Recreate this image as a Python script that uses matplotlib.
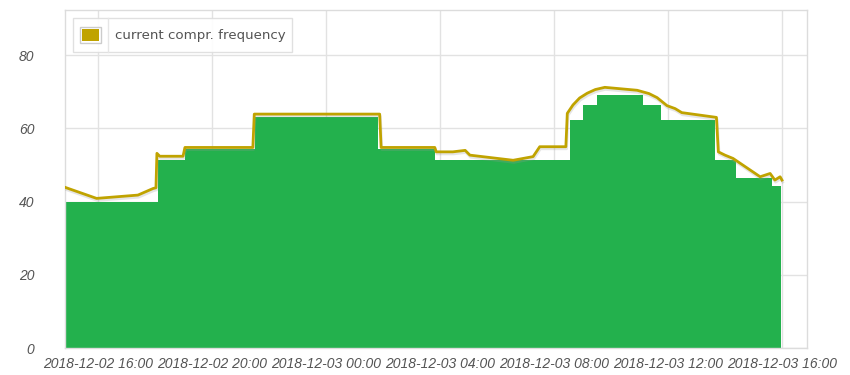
import matplotlib
matplotlib.use("Agg")
import matplotlib.pyplot as plt
import matplotlib.dates as mdates
import matplotlib.patheffects as pe
from matplotlib.patches import Rectangle
import numpy as np
import pandas as pd

# compressor frequency steps (green area), value holds until next edge
step_times = ["2018-12-02 14:50", "2018-12-02 18:06", "2018-12-02 19:03", "2018-12-02 21:31",
              "2018-12-03 01:49", "2018-12-03 03:49", "2018-12-03 08:33", "2018-12-03 09:01",
              "2018-12-03 09:31", "2018-12-03 11:07", "2018-12-03 11:45", "2018-12-03 13:39",
              "2018-12-03 14:23", "2018-12-03 15:39", "2018-12-03 15:58"]
step_values = [40, 51.3, 54.5, 63, 54.5, 51.3, 62.4, 66.4, 69.1, 66.4, 62.4, 51.3, 46.5, 44.3, 44.3]

# current compressor frequency (gold line)
line_times = ["2018-12-02 14:51", "2018-12-02 15:57", "2018-12-02 17:24", "2018-12-02 17:56",
              "2018-12-02 18:02", "2018-12-02 18:04", "2018-12-02 18:10", "2018-12-02 18:59",
              "2018-12-02 19:03", "2018-12-02 21:26", "2018-12-02 21:29", "2018-12-03 01:53",
              "2018-12-03 01:56", "2018-12-03 03:49", "2018-12-03 03:52", "2018-12-03 04:27",
              "2018-12-03 04:53", "2018-12-03 05:03", "2018-12-03 06:34", "2018-12-03 07:16",
              "2018-12-03 07:30", "2018-12-03 08:25", "2018-12-03 08:28", "2018-12-03 08:40",
              "2018-12-03 08:54", "2018-12-03 09:10", "2018-12-03 09:27", "2018-12-03 09:47",
              "2018-12-03 10:55", "2018-12-03 11:20", "2018-12-03 11:37", "2018-12-03 11:58",
              "2018-12-03 12:15", "2018-12-03 12:29", "2018-12-03 13:42", "2018-12-03 13:46",
              "2018-12-03 14:00", "2018-12-03 14:17", "2018-12-03 15:14", "2018-12-03 15:35",
              "2018-12-03 15:45", "2018-12-03 15:56", "2018-12-03 16:00"]
line_values = [43.9, 40.9, 41.8, 43.6, 43.8, 53.2, 52.4, 52.4, 54.8, 54.8, 63.9, 63.9,
               54.8, 54.8, 53.6, 53.6, 54.0, 52.7, 51.3, 52.3, 55.0, 55.0, 64.1, 66.4,
               68.3, 69.6, 70.6, 71.2, 70.4, 69.5, 68.4, 66.2, 65.4, 64.3, 63.0, 53.6,
               52.7, 51.8, 46.8, 47.7, 45.9, 46.8, 45.9]

tick_times = ["2018-12-02 16:00", "2018-12-02 20:00", "2018-12-03 00:00", "2018-12-03 04:00",
              "2018-12-03 08:00", "2018-12-03 12:00", "2018-12-03 16:00"]
y_ticks = [0, 20, 40, 60, 80]
legend_label = "current compr. frequency"

W, H = 850, 375
green = "#23b14d"
gold = "#c0a300"
grid_col = "#e2e2e2"
text_col = "#545454"

fig = plt.figure(figsize=(W / 100, H / 100), dpi=100)
ax = fig.add_axes([65 / W, 1 - 348.3 / H, (807 - 65) / W, (348.3 - 10) / H])

st = pd.to_datetime(step_times)
lt = pd.to_datetime(line_times)
tt = pd.to_datetime(tick_times)

ax.fill_between(st, 0, step_values, step="post", color=green, linewidth=0, zorder=2)
ax.plot(lt, line_values, color=gold, linewidth=2, zorder=3,
        path_effects=[pe.SimpleLineShadow(offset=(0.5, -1.5), shadow_color="#999999", alpha=0.25),
                      pe.Normal()])

ax.set_xlim(pd.Timestamp("2018-12-02 14:50:30"), pd.Timestamp("2018-12-03 16:52:40"))
ax.set_ylim(0, 92.3)
ax.set_xticks(tt)
ax.xaxis.set_major_formatter(mdates.DateFormatter("%Y-%m-%d %H:%M"))
ax.set_yticks(y_ticks)

ax.grid(True, color=grid_col, linewidth=1, zorder=0)
ax.set_axisbelow(True)
for s in ax.spines.values():
    s.set_color("#dcdcdc")
    s.set_linewidth(1)
ax.tick_params(length=0, colors=text_col)
ax.tick_params(axis="y", pad=22)
ax.tick_params(axis="x", pad=6)
for lbl in ax.get_xticklabels() + ax.get_yticklabels():
    lbl.set_fontfamily("Liberation Sans")
    lbl.set_fontstyle("italic")
    lbl.set_fontsize(10)
    lbl.set_color(text_col)


def fpos(x, y):
    return x / W, 1 - y / H


# legend box drawn like the flot legend
fig.patches.append(Rectangle(fpos(73, 52), (292 - 73) / W, (52 - 18) / H, transform=fig.transFigure,
                             facecolor="white", edgecolor="#dddddd", linewidth=1, alpha=0.9, zorder=5))
fig.lines.append(plt.Line2D([108 / W, 108 / W], [1 - 52 / H, 1 - 18 / H], transform=fig.transFigure,
                            color="#e6e6e6", linewidth=1, zorder=6))
fig.patches.append(Rectangle(fpos(80, 43), 21 / W, 16 / H, transform=fig.transFigure,
                             facecolor="white", edgecolor="#cccccc", linewidth=1, zorder=6))
fig.patches.append(Rectangle(fpos(82, 41), 17 / W, 12 / H, transform=fig.transFigure,
                             facecolor=gold, edgecolor="none", zorder=7))
fig.text(115 / W, 1 - 35 / H, legend_label, fontsize=9.6, color=text_col, va="center", ha="left",
         family="DejaVu Sans", zorder=7)

fig.savefig("out.png", dpi=100)
